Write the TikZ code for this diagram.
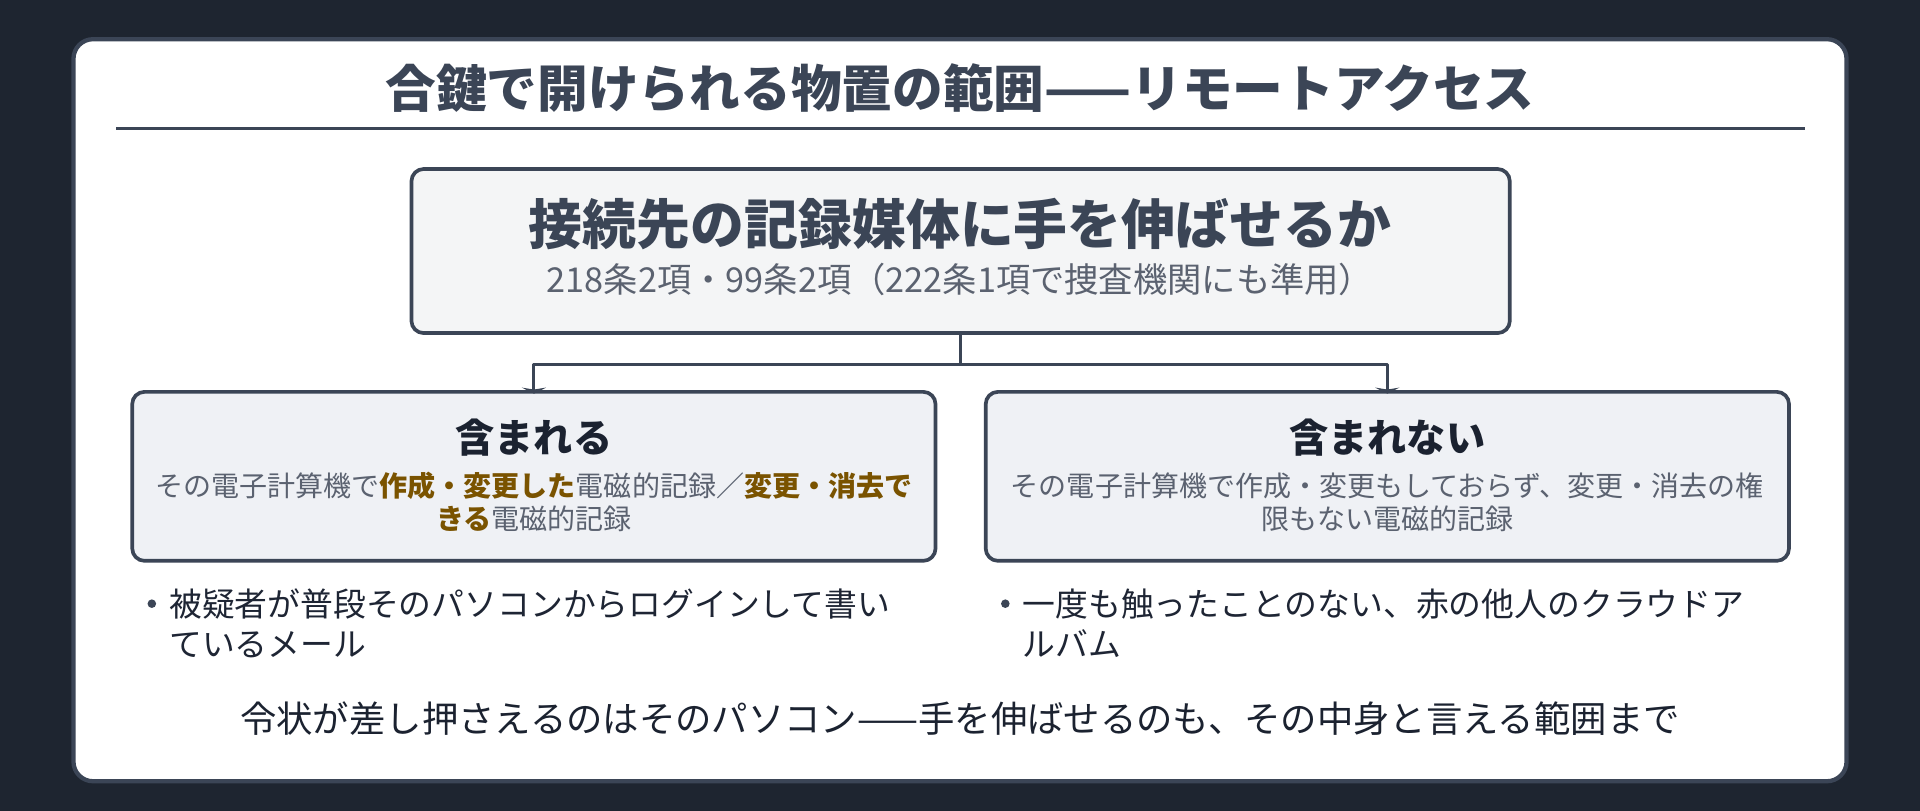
\documentclass[tikz,border=0pt]{standalone}
\usepackage{fontspec}
\setmainfont{Noto Sans CJK JP}
\usetikzlibrary{arrows.meta}
\definecolor{bgdark}{HTML}{1E2530}
\definecolor{slate}{HTML}{3B4556}
\definecolor{topfill}{HTML}{F4F5F6}
\definecolor{sidefill}{HTML}{EFF1F5}
\definecolor{inktext}{HTML}{1B2230}
\definecolor{graytext}{HTML}{5B6270}
\definecolor{gold}{HTML}{7A5300}
\newcommand{\hl}[1]{{\bfseries\color{gold}#1}}

\begin{document}
\begin{tikzpicture}
            [x=1pt,y=-1pt,line join=round,
             box/.style={draw=slate,line width=3pt,rounded corners=10pt},
             headtxt/.style={font=\fontsize{32}{36}\selectfont\bfseries,text=inktext,inner sep=0pt},
             smalltxt/.style={font=\fontsize{22.9}{27}\selectfont,text=graytext,align=center,inner sep=0pt},
             itemtxt/.style={font=\fontsize{26.8}{32}\selectfont,text=inktext!90!slate,align=left,inner sep=0pt,anchor=west},
             dot/.style={circle,fill=slate,inner sep=0pt,minimum size=7pt},
             conn/.style={draw=slate,line width=2.5pt,shorten >=-3pt,-{Stealth[length=5pt,width=20pt]}}]
            \fill[bgdark] (0,0) rectangle (1568,662);
            \draw[draw=slate,fill=white,line width=3.5pt,rounded corners=16pt] (60,32) rectangle (1508,638);

            \node[font=\fontsize{41.4}{46}\selectfont\bfseries,text=slate,inner sep=0pt] (title) at (784,72) {合鍵で開けられる物置の範囲——リモートアクセス};
            \draw[slate,line width=2pt] (95,105) -- (1474,105);

            \node[box,fill=topfill,minimum width=897pt,minimum height=134pt] (reach) at (784.5,205) {};
            \node[font=\fontsize{44}{50}\selectfont\bfseries,text=slate,inner sep=0pt] (reachhead) at (784,183) {接続先の記録媒体に手を伸ばせるか};
            \node[font=\fontsize{28}{32}\selectfont,text=graytext,inner sep=0pt] (reachlaw) at (784,228) {218条2項・99条2項（222条1項で捜査機関にも準用）};

            \node[box,fill=sidefill,minimum width=656pt,minimum height=138pt] (incl) at (436,389) {};
            \node[headtxt] (inclhead) at (436,357) {含まれる};
            \node[smalltxt] (incltxt) at (436,410) {その電子計算機で\hl{作成・変更した}電磁的記録／\hl{変更・消去で}\\\hl{きる}電磁的記録};

            \node[box,fill=sidefill,minimum width=656pt,minimum height=138pt] (excl) at (1133,389) {};
            \node[headtxt] (exclhead) at (1133,357) {含まれない};
            \node[smalltxt] (excltxt) at (1133,410) {その電子計算機で作成・変更もしておらず、変更・消去の権\\限もない電磁的記録};

            \path[conn] (reach.south) -- ++(0,24) -| (incl.north);
            \path[conn] (reach.south) -- ++(0,24) -| (excl.north);

            \node[dot] (incldot) at (124,493) {};
            \node[itemtxt] (inclitem) at (138,509) {被疑者が普段そのパソコンからログインして書い\\ているメール};
            \node[dot] (excldot) at (821,493) {};
            \node[itemtxt] (exclitem) at (835,509) {一度も触ったことのない、赤の他人のクラウドア\\ルバム};

            \node[font=\fontsize{29.7}{34}\selectfont,text=inktext,inner sep=0pt] (closing) at (784,587) {令状が差し押さえるのはそのパソコン——手を伸ばせるのも、その中身と言える範囲まで};
        \end{tikzpicture}
\end{document}
